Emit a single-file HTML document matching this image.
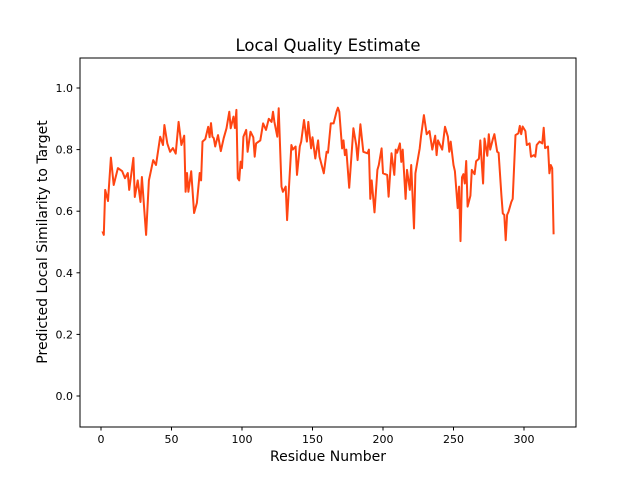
<!DOCTYPE html>
<html><head><meta charset="utf-8"><style>
body{margin:0;background:#fff;}
svg{display:block;font-family:"DejaVu Sans","Liberation Sans",sans-serif;}
</style></head><body>
<svg id="chart" width="640" height="480">
<rect x="0" y="0" width="640" height="480" fill="#fff"/>
<text x="328" y="51" text-anchor="middle" font-size="16.5" fill="#000">Local Quality Estimate</text>
<text x="328" y="461" text-anchor="middle" font-size="14" fill="#000">Residue Number</text>
<text transform="translate(47,242) rotate(-90)" text-anchor="middle" font-size="14" fill="#000">Predicted Local Similarity to Target</text>
<g id="xticks"></g>
<g id="yticks"></g>
<path id="line" fill="none" stroke="#ff4512" stroke-width="2" stroke-linejoin="round"/>
<rect x="80" y="58" width="496" height="369" fill="none" stroke="#000" stroke-width="1"/>
</svg>
<script>
const residues=[1,2,3,5,7,9,12,15,17,19,20,23,24,26,28,29,32,34,37,39,42,44,45,47,49,51,53,55,57,59,60,61,62,64,66,68,70,71,72,74,76,77,78,79,80,81,83,85,87,89,91,92,94,95,96,97,98,99,100,101,103,104,106,108,109,110,113,115,117,119,121,122,123,125,126,128,129,131,132,135,136,138,139,141,142,144,146,147,149,150,152,154,155,158,160,161,163,165,167,168,169,171,172,173,174,176,179,181,182,184,186,189,190,191,192,194,196,197,199,200,203,204,206,208,209,210,212,213,214,216,217,219,220,222,223,226,227,229,231,233,234,235,237,238,239,240,242,244,246,247,248,250,251,253,254,255,256,257,258,259,260,262,263,265,266,268,269,271,272,274,275,276,278,279,281,282,284,285,286,287,288,289,291,292,294,296,297,298,299,301,302,304,305,307,308,309,311,313,314,315,317,318,319,320,321];
const scores=[.535,.523,.669,.633,.774,.685,.74,.73,.707,.724,.669,.773,.646,.70,.63,.711,.523,.70,.766,.75,.842,.815,.88,.82,.793,.805,.787,.89,.815,.845,.663,.724,.663,.73,.594,.627,.724,.70,.826,.834,.874,.84,.886,.842,.837,.81,.847,.795,.837,.869,.923,.869,.907,.87,.929,.707,.70,.761,.74,.842,.864,.793,.858,.84,.777,.82,.83,.885,.864,.90,.89,.923,.89,.842,.934,.68,.663,.68,.571,.815,.80,.81,.718,.81,.826,.896,.826,.89,.804,.84,.771,.83,.777,.723,.793,.79,.885,.885,.923,.936,.923,.804,.83,.782,.80,.676,.869,.815,.766,.882,.793,.788,.80,.64,.70,.596,.734,.75,.804,.723,.718,.647,.788,.718,.80,.79,.82,.76,.80,.64,.734,.669,.75,.544,.723,.804,.845,.912,.85,.86,.83,.80,.845,.782,.83,.82,.80,.874,.842,.793,.826,.75,.73,.61,.68,.503,.71,.72,.69,.763,.615,.65,.734,.72,.762,.77,.83,.69,.836,.78,.85,.80,.836,.85,.793,.79,.652,.593,.588,.506,.588,.598,.63,.64,.847,.853,.877,.85,.875,.86,.815,.82,.777,.782,.777,.815,.826,.82,.871,.805,.81,.723,.75,.74,.525];
const xTickVals=[0,50,100,150,200,250,300];
const yTickVals=[0.0,0.2,0.4,0.6,0.8,1.0];
const yTickLabels=["0.0","0.2","0.4","0.6","0.8","1.0"];
const NS="http://www.w3.org/2000/svg";
function xs(v){return 101+(v)*1.41;}
function ys(v){return 396-v*308;}
const xg=document.getElementById('xticks');
xTickVals.forEach(v=>{
  const l=document.createElementNS(NS,'line');
  l.setAttribute('x1',xs(v));l.setAttribute('x2',xs(v));l.setAttribute('y1',427);l.setAttribute('y2',430.5);
  l.setAttribute('stroke','#000');
  
  
  xg.appendChild(l);
  const t=document.createElementNS(NS,'text');
  t.setAttribute('x',xs(v));t.setAttribute('y',443);t.setAttribute('text-anchor','middle');t.setAttribute('font-size','11');
  t.textContent=String(v);
  
  
  xg.appendChild(t);
});
const yg=document.getElementById('yticks');
yTickVals.forEach((v,i)=>{
  const l=document.createElementNS(NS,'line');
  l.setAttribute('x1',76.5);l.setAttribute('x2',80);l.setAttribute('y1',ys(v));l.setAttribute('y2',ys(v));
  l.setAttribute('stroke','#000');
  
  
  yg.appendChild(l);
  const t=document.createElementNS(NS,'text');
  t.setAttribute('x',73);t.setAttribute('y',ys(v)+4);t.setAttribute('text-anchor','end');t.setAttribute('font-size','11');
  t.textContent=yTickLabels[i];
  
  
  yg.appendChild(t);
});
let d='';
residues.forEach((r,i)=>{d+=(i?'L':'M')+xs(r).toFixed(1)+','+ys(scores[i]).toFixed(1);});
document.getElementById('line').setAttribute('d',d);
</script>
</body></html>
